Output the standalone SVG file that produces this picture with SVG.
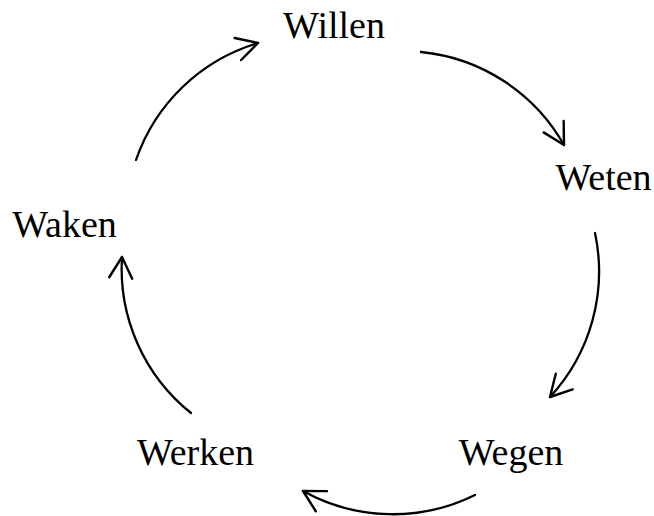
<svg xmlns="http://www.w3.org/2000/svg" width="654" height="516" viewBox="0 0 654 516">
<style>
.lbl{font-family:"Liberation Serif","Times New Roman",serif;font-size:38px;fill:#000;text-anchor:middle}
.arc{fill:none;stroke:#000;stroke-width:2.3;stroke-linecap:round;marker-end:url(#to)}
</style>
<defs>
<marker id="to" markerUnits="userSpaceOnUse" markerWidth="40" markerHeight="40" refX="0" refY="0" viewBox="-25 -20 30 40" orient="auto" overflow="visible">
<path d="M-21,-11.5 L0,0 L-21,11.5" fill="none" stroke="#000" stroke-width="2.4" stroke-linecap="round" stroke-linejoin="round"/>
</marker>
</defs>
<rect width="654" height="516" fill="#fff"/>
<g id="willen"><text class="lbl" x="334" y="38">Willen</text></g>
<g id="weten"><text class="lbl" x="603.5" y="190">Weten</text></g>
<g id="wegen"><text class="lbl" x="511" y="465">Wegen</text></g>
<g id="werken"><text class="lbl" x="195.5" y="465">Werken</text></g>
<g id="waken"><text class="lbl" x="64.5" y="237">Waken</text></g>
<g id="connectors">
<path class="arc" d="M421,52 A185,185 0 0 1 564,145"/>
<path class="arc" d="M595,233 A185,185 0 0 1 550,397"/>
<path class="arc" d="M475,495 A185,185 0 0 1 303,491"/>
<path class="arc" d="M191,413 A185,185 0 0 1 122,257"/>
<path class="arc" d="M136,160 A185,185 0 0 1 258,43"/>
</g>
</svg>
